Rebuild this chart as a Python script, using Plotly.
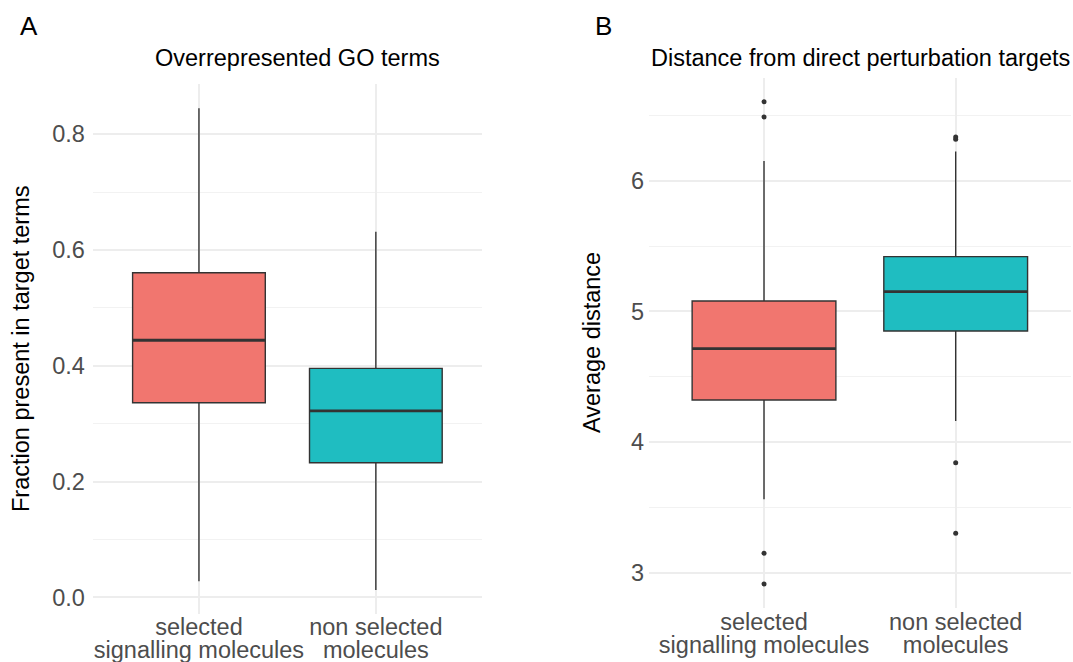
import plotly.graph_objects as go

categories_line1 = ["selected", "non selected"]
categories_line2 = ["signalling molecules", "molecules"]
cat_pos = [1, 2]
fill_colors = ["#F1766F", "#1FBDC1"]

# Panel A: Overrepresented GO terms
go_q1 = [0.336, 0.2325]
go_median = [0.444, 0.322]
go_q3 = [0.5606, 0.3955]
go_lower = [0.0276, 0.0126]
go_upper = [0.8446, 0.6314]

# Panel B: Distance from direct perturbation targets
dist_q1 = [4.322, 4.851]
dist_median = [4.715, 5.152]
dist_q3 = [5.080, 5.420]
dist_lower = [3.562, 4.162]
dist_upper = [6.152, 6.224]
dist_outliers = [
    [6.606, 6.489, 3.148, 2.913],
    [6.335, 6.318, 3.842, 3.302],
]

BOX_W = 0.75
FONT = "Liberation Sans"
TXT = 23.5
OUTLINE = "#333333"

fig = go.Figure()


def add_panel(q1, med, q3, lo, hi, xa, ya, outliers=None):
    for i in range(len(cat_pos)):
        fig.add_trace(go.Box(
            x=[cat_pos[i]], q1=[q1[i]], median=[med[i]], q3=[q3[i]],
            lowerfence=[lo[i]], upperfence=[hi[i]],
            width=BOX_W, fillcolor=fill_colors[i],
            line=dict(color=OUTLINE, width=1.4),
            boxpoints=False, whiskerwidth=0, showlegend=False,
            hoverinfo="skip", xaxis=xa, yaxis=ya,
        ))
        fig.add_trace(go.Scatter(
            x=[cat_pos[i] - BOX_W / 2, cat_pos[i] + BOX_W / 2],
            y=[med[i], med[i]], mode="lines",
            line=dict(color=OUTLINE, width=2.8),
            showlegend=False, hoverinfo="skip", xaxis=xa, yaxis=ya,
        ))
        if outliers is not None:
            fig.add_trace(go.Scatter(
                x=[cat_pos[i]] * len(outliers[i]), y=outliers[i],
                mode="markers", marker=dict(color=OUTLINE, size=5),
                showlegend=False, hoverinfo="skip", xaxis=xa, yaxis=ya,
            ))


add_panel(go_q1, go_median, go_q3, go_lower, go_upper, "x", "y")
add_panel(dist_q1, dist_median, dist_q3, dist_lower, dist_upper, "x2", "y2",
          dist_outliers)

# invisible traces so the second-line tick axes are active
fig.add_trace(go.Scatter(x=cat_pos, y=go_median, mode="markers",
                         marker=dict(opacity=0), showlegend=False,
                         hoverinfo="skip", xaxis="x3", yaxis="y"))
fig.add_trace(go.Scatter(x=cat_pos, y=dist_median, mode="markers",
                         marker=dict(opacity=0), showlegend=False,
                         hoverinfo="skip", xaxis="x4", yaxis="y2"))

W, H = 1073, 662

tickfont = dict(family=FONT, size=TXT, color="#4D4D4D")
xcommon = dict(
    tickmode="array", tickvals=cat_pos,
    range=[0.4, 2.6], zeroline=False, showline=False, ticks="",
    automargin=False, tickfont=tickfont, fixedrange=True,
)
ycommon = dict(
    showgrid=True, gridcolor="#EDEDED", gridwidth=1.6,
    zeroline=False, showline=False, ticks="", automargin=False,
    tickfont=tickfont, fixedrange=True,
)

fig.update_layout(
    width=W, height=H,
    margin=dict(l=0, r=0, t=0, b=0, autoexpand=False),
    paper_bgcolor="white", plot_bgcolor="white",
    showlegend=False,
    xaxis=dict(domain=[92.8 / W, 482 / W], anchor="y",
               ticktext=categories_line1, ticklabelstandoff=-3,
               showgrid=True, gridcolor="#EDEDED", gridwidth=1.6, **xcommon),
    xaxis3=dict(overlaying="x", anchor="y", side="bottom",
                ticktext=categories_line2, ticklabelstandoff=20,
                showgrid=False, **xcommon),
    yaxis=dict(domain=[(H - 613.9) / H, (H - 84) / H], anchor="x",
               range=[-0.0286, 0.8866], tickmode="array",
               tickvals=[0.0, 0.2, 0.4, 0.6, 0.8],
               ticktext=["0.0", "0.2", "0.4", "0.6", "0.8"],
               minor=dict(tickvals=[0.1, 0.3, 0.5, 0.7], showgrid=True,
                          gridcolor="#F2F2F2", gridwidth=1.2),
               ticklabelstandoff=7, **ycommon),
    xaxis2=dict(domain=[649 / W, 1070.7 / W], anchor="y2",
                ticktext=categories_line1, ticklabelstandoff=-3,
                showgrid=True, gridcolor="#EDEDED", gridwidth=1.6, **xcommon),
    xaxis4=dict(overlaying="x2", anchor="y2", side="bottom",
                ticktext=categories_line2, ticklabelstandoff=20,
                showgrid=False, **xcommon),
    yaxis2=dict(domain=[(H - 608.2) / H, (H - 77.7) / H], anchor="x2",
                range=[2.728, 6.79], tickmode="array",
                tickvals=[3, 4, 5, 6], ticktext=["3", "4", "5", "6"],
                minor=dict(tickvals=[3.5, 4.5, 5.5, 6.5], showgrid=True,
                           gridcolor="#F2F2F2", gridwidth=1.2),
                ticklabelstandoff=4, **ycommon),
)


def ann(text, x, y, size, color="black", angle=0):
    fig.add_annotation(
        text=text, x=x / W, y=1 - y / H, xref="paper", yref="paper",
        xanchor="center", yanchor="middle", showarrow=False,
        textangle=angle, font=dict(family=FONT, size=size, color=color),
    )


ann("A", 29, 26, 26)
ann("B", 603, 26, 26)
ann("Overrepresented GO terms", 297, 58, TXT)
ann("Distance from direct perturbation targets", 860, 58, TXT)
ann("Fraction present in target terms", 21, 349, TXT, angle=-90)
ann("Average distance", 592, 343, TXT, angle=-90)

fig.write_html("out.html")
